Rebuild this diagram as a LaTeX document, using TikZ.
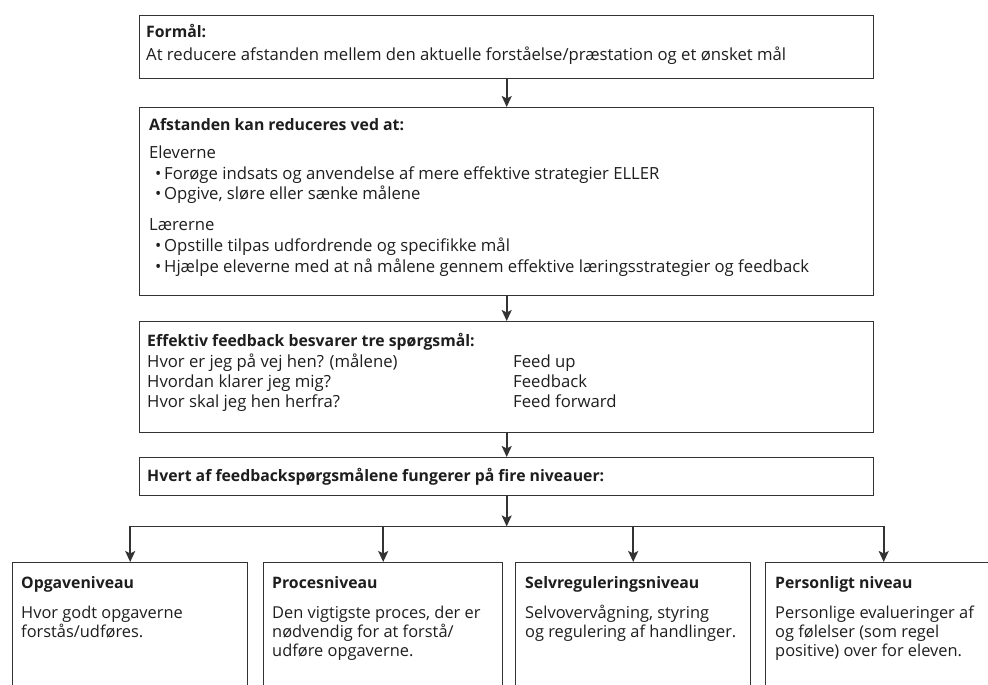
\documentclass[tikz,border=0pt]{standalone}
\usepackage{fontspec}
\setmainfont{Open Sans}
\usetikzlibrary{arrows.meta,calc}
\definecolor{ink}{HTML}{1E1E1E}
\definecolor{linegray}{HTML}{333333}
\begin{document}
\begin{tikzpicture}[x=1pt,y=-1pt,
  box/.style={draw=linegray, line width=1.4pt, rectangle, inner sep=0pt, anchor=north west},
  txt/.style={anchor=base west, inner sep=0pt, text=ink, font=\fontsize{16.7}{19}\selectfont},
  ttl/.style={anchor=base west, inner sep=0pt, text=ink, font=\fontsize{15.8}{19}\selectfont\bfseries},
  btxt/.style={anchor=base west, inner sep=0pt, text=ink, font=\fontsize{16.4}{19}\selectfont},
  conn/.style={draw=linegray, line width=1.6pt},
  arr/.style={conn, -{Stealth[length=11pt,width=10pt,inset=2.5pt]}},
]
\useasboundingbox (0,0) rectangle (988,685);
\clip (0,0) rectangle (988,685);
\fill[white] (0,0) rectangle (988,685);

% main boxes
\node[box, minimum width=734pt, minimum height=63pt] (b1) at (139,15) {};
\node[box, minimum width=734pt, minimum height=188pt] (b2) at (139,107) {};
\node[box, minimum width=734pt, minimum height=111pt] (b3) at (139,321) {};
\node[box, minimum width=734pt, minimum height=38pt] (b4) at (139,457) {};

% bottom boxes
\node[box, minimum width=235pt, minimum height=160pt] (o1) at (12,562) {};
\node[box, minimum width=239pt, minimum height=160pt] (o2) at (263,562) {};
\node[box, minimum width=235pt, minimum height=160pt] (o3) at (515,562) {};
\node[box, minimum width=236pt, minimum height=160pt] (o4) at (765,562) {};

% texts box 1
\node[ttl] (t11) at (146,38) {Formål:};
\node[txt] (t12) at (146,60) {At reducere afstanden mellem den aktuelle forståelse/præstation og et ønsket mål};

% texts box 2
\node[ttl] (t21) at (149,130) {Afstanden kan reduceres ved at:};
\node[txt] (t22) at (149,158) {Eleverne};
\node[txt] (t23) at (155,179) {\makebox[9pt][l]{•}Forøge indsats og anvendelse af mere effektive strategier ELLER};
\node[txt] (t24) at (155,199) {\makebox[9pt][l]{•}Opgive, sløre eller sænke målene};
\node[txt] (t25) at (149,230) {Lærerne};
\node[txt] (t26) at (155,251) {\makebox[9pt][l]{•}Opstille tilpas udfordrende og specifikke mål};
\node[txt] (t27) at (155,272) {\makebox[9pt][l]{•}Hjælpe eleverne med at nå målene gennem effektive læringsstrategier og feedback};

% texts box 3
\node[ttl] (t31) at (147,346) {Effektiv feedback besvarer tre spørgsmål:};
\node[txt] (t32) at (147,367) {Hvor er jeg på vej hen? (målene)};
\node[txt] (t33) at (147,387) {Hvordan klarer jeg mig?};
\node[txt] (t34) at (147,407) {Hvor skal jeg hen herfra?};
\node[txt] (t35) at (513,367) {Feed up};
\node[txt] (t36) at (513,387) {Feedback};
\node[txt] (t37) at (513,407) {Feed forward};

% text box 4
\node[ttl] (t41) at (147,481) {Hvert af feedbackspørgsmålene fungerer på fire niveauer:};

% bottom texts
\node[ttl] (u11) at (21,588) {Opgaveniveau};
\node[btxt] (u12) at (21,618) {Hvor godt opgaverne};
\node[btxt] (u13) at (21,637) {forstås/udføres.};

\node[ttl] (u21) at (272,588) {Procesniveau};
\node[btxt] (u22) at (272,618) {Den vigtigste proces, der er};
\node[btxt] (u23) at (272,637) {nødvendig for at forstå/};
\node[btxt] (u24) at (272,656) {udføre opgaverne.};

\node[ttl] (u31) at (525,588) {Selvreguleringsniveau};
\node[btxt] (u32) at (525,618) {Selvovervågning, styring};
\node[btxt] (u33) at (525,637) {og regulering af handlinger.};

\node[ttl] (u41) at (775,588) {Personligt niveau};
\node[btxt] (u42) at (775,618) {Personlige evalueringer af};
\node[btxt] (u43) at (775,637) {og følelser (som regel};
\node[btxt] (u44) at (775,656) {positive) over for eleven.};

% connectors
\draw[arr] (b1.south) -- (b2.north);
\draw[arr] (b2.south) -- (b3.north);
\draw[arr] (b3.south) -- (b4.north);
\coordinate (split) at ($(b4.south)+(0,30)$);
\draw[arr] (b4.south) -- (split);
\draw[conn] (o1.north |- split) -- (o4.north |- split);
\foreach \n in {o1,o2,o3,o4} \draw[arr] (\n.north |- split) -- (\n.north);
\end{tikzpicture}
\end{document}
